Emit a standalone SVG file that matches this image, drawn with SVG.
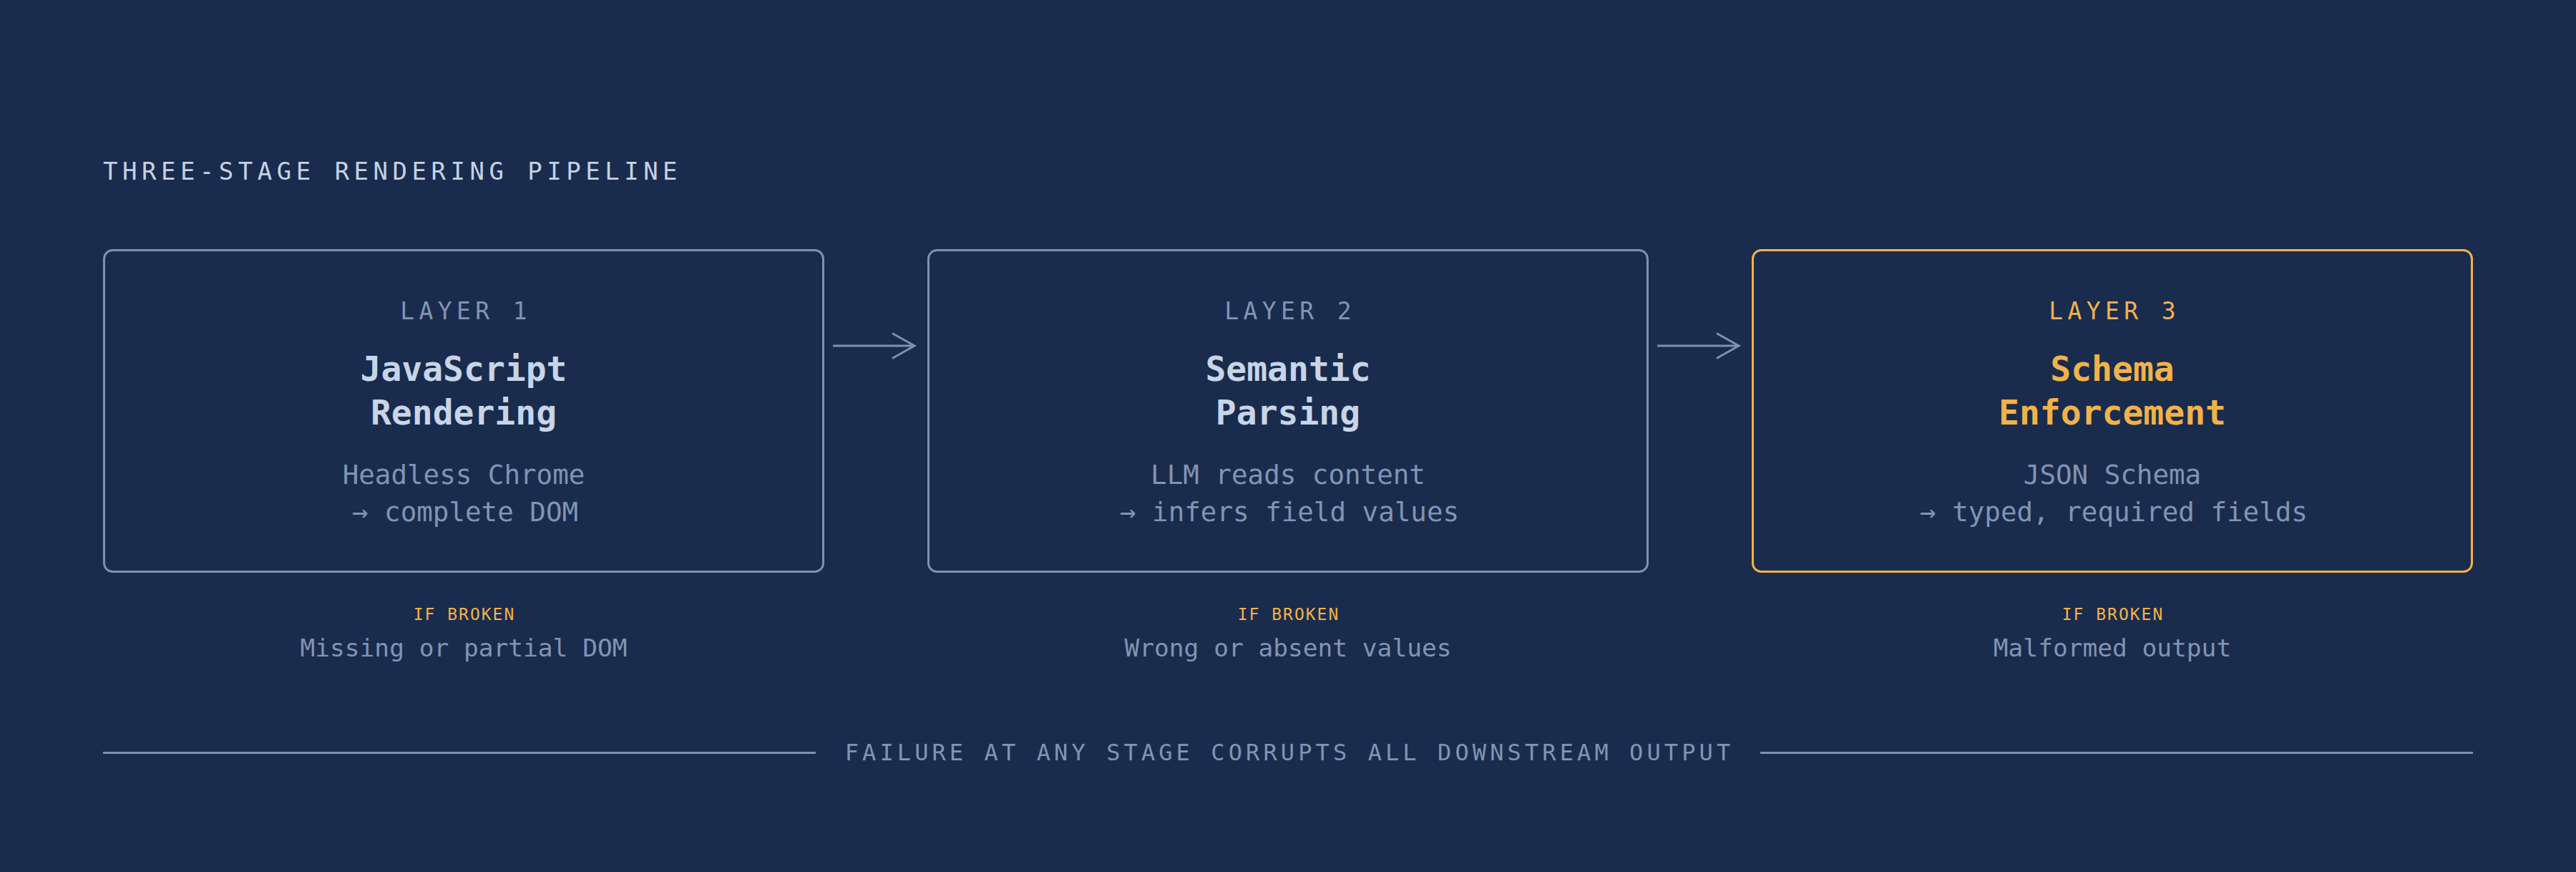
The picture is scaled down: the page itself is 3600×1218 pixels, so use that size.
<svg xmlns="http://www.w3.org/2000/svg" width="3600" height="1218" viewBox="0 0 3600 1218">
  <defs>
    <style>
      text { font-family: "DejaVu Sans Mono", "Liberation Mono", monospace; }
      .title { font-size: 34px; letter-spacing: 6.5px; fill: #c6d1e3; }
      .layer { font-size: 33px; letter-spacing: 6.4px; fill: #8294b2; text-anchor: middle; }
      .head { font-size: 48px; font-weight: bold; fill: #c8d4e7; text-anchor: middle; }
      .sub { font-size: 37.5px; fill: #8294b2; text-anchor: middle; }
      .ifb { font-size: 23px; letter-spacing: 2px; fill: #f2b24a; text-anchor: middle; }
      .fail { font-size: 34.5px; fill: #8294b2; text-anchor: middle; }
      .foot { font-size: 32px; letter-spacing: 5.1px; fill: #8294b2; text-anchor: middle; }
      .box { fill: none; stroke: #7f91b0; stroke-width: 3; }
      .box.hl { stroke: #f2b24a; }
      .accent { fill: #f2b24a; }
      .conn { fill: none; stroke: #7f91b0; stroke-width: 3; }
      .rule { stroke: #7f91b0; stroke-width: 3; }
    </style>
    <marker id="chev" markerUnits="userSpaceOnUse" markerWidth="44" markerHeight="44" viewBox="-38 -22 44 44" refX="0" refY="0" orient="auto">
      <path d="M-31,-17.5 L0,0 L-31,17.5" fill="none" stroke="#7f91b0" stroke-width="3"/>
    </marker>
  </defs>

  <rect x="0" y="0" width="3600" height="1218" fill="#192c4d"/>

  <text class="title" x="144" y="251">THREE-STAGE RENDERING PIPELINE</text>

  <g id="layer1">
    <rect class="box" x="145.5" y="349.5" width="1005" height="449" rx="12" ry="12"/>
    <text class="layer" x="651.2" y="446">LAYER 1</text>
    <text class="head" x="648" y="532">JavaScript</text>
    <text class="head" x="648" y="593">Rendering</text>
    <text class="sub" x="648" y="676">Headless Chrome</text>
    <text class="sub" x="650" y="728">→ complete DOM</text>
  </g>

  <g id="layer2">
    <rect class="box" x="1297.5" y="349.5" width="1005" height="449" rx="12" ry="12"/>
    <text class="layer" x="1803.2" y="446">LAYER 2</text>
    <text class="head" x="1800" y="532">Semantic</text>
    <text class="head" x="1800" y="593">Parsing</text>
    <text class="sub" x="1800" y="676">LLM reads content</text>
    <text class="sub" x="1802" y="728">→ infers field values</text>
  </g>

  <g id="layer3">
    <rect class="box hl" x="2449.5" y="349.5" width="1005" height="449" rx="12" ry="12"/>
    <text class="layer accent" x="2955.2" y="446">LAYER 3</text>
    <text class="head accent" x="2952" y="532">Schema</text>
    <text class="head accent" x="2952" y="593">Enforcement</text>
    <text class="sub" x="2952" y="676">JSON Schema</text>
    <text class="sub" x="2954" y="728">→ typed, required fields</text>
  </g>

  <g id="failure1">
    <text class="ifb" x="649" y="865.5">IF BROKEN</text>
    <text class="fail" x="648" y="917">Missing or partial DOM</text>
  </g>
  <g id="failure2">
    <text class="ifb" x="1801" y="865.5">IF BROKEN</text>
    <text class="fail" x="1800" y="917">Wrong or absent values</text>
  </g>
  <g id="failure3">
    <text class="ifb" x="2953" y="865.5">IF BROKEN</text>
    <text class="fail" x="2952" y="917">Malformed output</text>
  </g>

  <g id="connectors">
    <path class="conn" d="M1164,483 H1278" marker-end="url(#chev)"/>
    <path class="conn" d="M2316,483 H2430" marker-end="url(#chev)"/>
  </g>

  <g id="footer">
    <line class="rule" x1="144" y1="1051.5" x2="1140" y2="1051.5"/>
    <line class="rule" x1="2460" y1="1051.5" x2="3456" y2="1051.5"/>
    <text class="foot" x="1802" y="1062">FAILURE AT ANY STAGE CORRUPTS ALL DOWNSTREAM OUTPUT</text>
  </g>
</svg>
